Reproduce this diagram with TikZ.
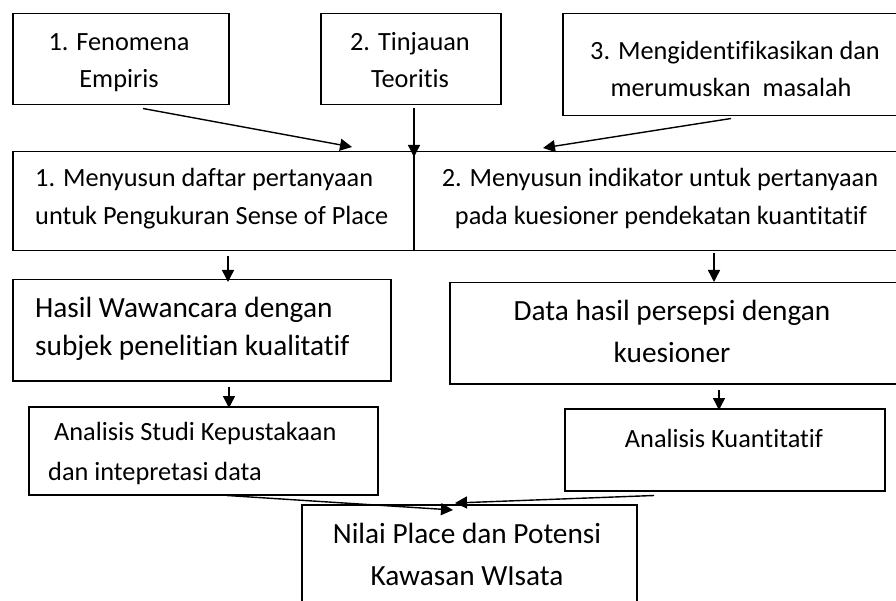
\documentclass[tikz,border=0pt]{standalone}
\usepackage{fontspec}
\setmainfont{Carlito}[Ligatures={NoCommon}]
\usetikzlibrary{arrows.meta,calc}
\begin{document}
\begin{tikzpicture}[x=1pt,y=-1pt,
  box/.style={draw=black,line width=1.5pt,rectangle,inner sep=0pt,anchor=north west},
  smalltxt/.style={inner sep=0pt,font=\fontsize{26.3}{30}\selectfont},
  bigtxt/.style={inner sep=0pt,font=\fontsize{29.3}{33}\selectfont},
  arr/.style={line width=1.4pt,-{Triangle[length=12pt,width=12pt]}}]
\path[use as bounding box,clip] (0,0) rectangle (896,601);
% boxes
\node[box,minimum width=216pt,minimum height=91pt] (b1) at (12,13) {};
\node[box,minimum width=180pt,minimum height=91pt] (b2) at (320,13) {};
\node[box,minimum width=340pt,minimum height=102pt] (b3) at (562,13) {};
\node[box,minimum width=890pt,minimum height=99pt] (big) at (12,151) {};
\node[box,minimum width=378pt,minimum height=101pt] (hasil) at (12,279) {};
\node[box,minimum width=453pt,minimum height=101pt] (data) at (449,282) {};
\node[box,minimum width=349pt,minimum height=88pt] (studi) at (28,406) {};
\node[box,minimum width=320pt,minimum height=82pt] (kuan) at (564,408) {};
\node[box,minimum width=335pt,minimum height=110pt] (nilai) at (301,504) {};
% divider in big box
\coordinate (divtop) at ($(big.north west)+(402,0)$);
\coordinate (divbot) at ($(big.south west)+(402,0)$);
\draw[line width=1.5pt] (divtop) -- (divbot);
% texts
\node[smalltxt,anchor=base] (t1a) at (119,51) {1. Fenomena};
\node[smalltxt,anchor=base] (t1b) at (119,88) {Empiris};
\node[smalltxt,anchor=base] (t2a) at (410,51) {2. Tinjauan};
\node[smalltxt,anchor=base] (t2b) at (410,88) {Teoritis};
\node[smalltxt,anchor=base] (t3a) at (735,60) {3. Mengidentifikasikan dan};
\node[smalltxt,anchor=base] (t3b) at (731,97) {merumuskan\ \ masalah};
\node[smalltxt,anchor=base west] (t4a) at (35,187) {1. Menyusun daftar pertanyaan};
\node[smalltxt,anchor=base west] (t4b) at (35,225) {untuk Pengukuran Sense of Place};
\node[smalltxt,anchor=base] (t5a) at (660,187) {2. Menyusun indikator untuk pertanyaan};
\node[smalltxt,anchor=base] (t5b) at (661,225) {pada kuesioner pendekatan kuantitatif};
\node[bigtxt,anchor=base west] (t6a) at (35,317) {Hasil Wawancara dengan};
\node[bigtxt,anchor=base west] (t6b) at (35,355) {subjek penelitian kualitatif};
\node[bigtxt,anchor=base] (t7a) at (672,320) {Data hasil persepsi dengan};
\node[bigtxt,anchor=base] (t7b) at (672,362) {kuesioner};
\node[smalltxt,anchor=base west] (t8a) at (54,440) {Analisis Studi Kepustakaan};
\node[smalltxt,anchor=base west] (t8b) at (48,480) {dan intepretasi data};
\node[smalltxt,anchor=base] (t9) at (724,447) {Analisis Kuantitatif};
\node[bigtxt,anchor=base] (t10a) at (467,543) {Nilai Place dan Potensi};
\node[bigtxt,anchor=base] (t10b) at (467,585) {Kawasan WIsata};
% connectors
\draw[arr] ($(b1.south west)+(131,3)$) -- ($(big.north west)+(340,-4)$);
\draw[arr] ($(b2.south west)+(94,3)$) -- ($(big.north west)+(402,6)$);
\draw[arr] ($(b3.south west)+(169,2)$) -- ($(big.north west)+(531,-3)$);
\draw[arr] ($(big.south west)+(216,5)$) -- ($(hasil.north west)+(216,3)$);
\draw[arr] ($(big.south west)+(702,2)$) -- ($(data.north west)+(265,0)$);
\draw[arr] ($(hasil.south west)+(217,5)$) -- ($(studi.north west)+(201,2)$);
\draw[arr] ($(data.south west)+(270,5)$) -- ($(kuan.north west)+(155,2)$);
\draw[arr] ($(studi.south west)+(199,0)$) -- ($(nilai.north west)+(152,6)$);
\draw[arr] ($(kuan.south west)+(90,4)$) -- ($(nilai.north west)+(154,-1)$);
\end{tikzpicture}
\end{document}
